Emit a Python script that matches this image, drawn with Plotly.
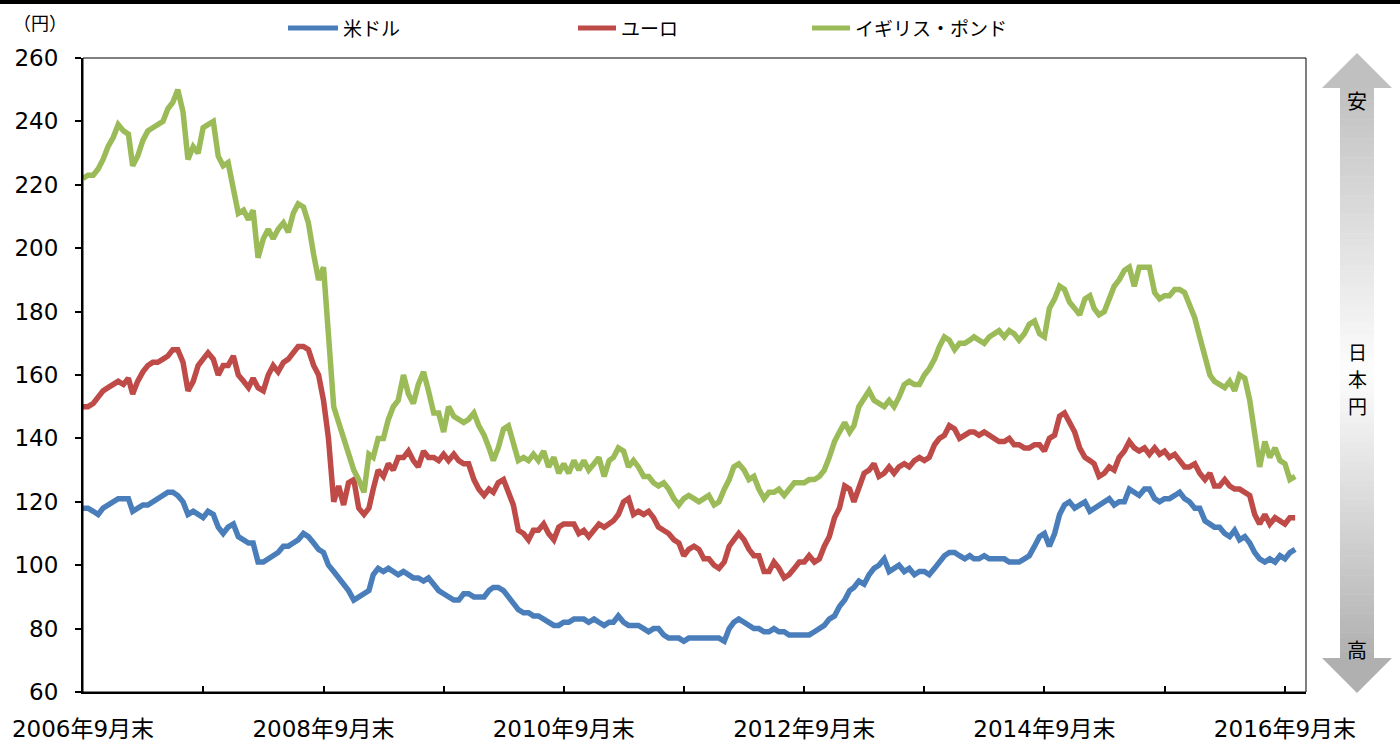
import pandas as pd
import plotly.graph_objects as go

# ---------------- data (semi-monthly readings, 2006-09-30 .. 2016-10-31) ----------------
usd = [118, 118, 117, 116, 118, 119, 120, 121, 121, 121, 117, 118, 119, 119, 120, 121, 122, 123, 123, 122,
       120, 116, 117, 116, 115, 117, 116, 112, 110, 112, 113, 109, 108, 107, 107, 101, 101, 102, 103, 104,
       106, 106, 107, 108, 110, 109, 107, 105, 104, 100, 98, 96, 94, 92, 89, 90, 91, 92, 97, 99,
       98, 99, 98, 97, 98, 97, 96, 96, 95, 96, 94, 92, 91, 90, 89, 89, 91, 91, 90, 90,
       90, 92, 93, 93, 92, 90, 88, 86, 85, 85, 84, 84, 83, 82, 81, 81, 82, 82, 83, 83,
       83, 82, 83, 82, 81, 82, 82, 84, 82, 81, 81, 81, 80, 79, 80, 80, 78, 77, 77, 77,
       76, 77, 77, 77, 77, 77, 77, 77, 76, 80, 82, 83, 82, 81, 80, 80, 79, 79, 80, 79,
       79, 78, 78, 78, 78, 78, 79, 80, 81, 83, 84, 87, 89, 92, 93, 95, 94, 97, 99, 100,
       102, 98, 99, 100, 98, 99, 97, 98, 98, 97, 99, 101, 103, 104, 104, 103, 102, 103, 102, 102,
       103, 102, 102, 102, 102, 101, 101, 101, 102, 103, 106, 109, 110, 106, 110, 116, 119, 120, 118, 119,
       120, 117, 118, 119, 120, 121, 119, 120, 120, 124, 123, 122, 124, 124, 121, 120, 121, 121, 122, 123,
       121, 120, 118, 118, 114, 113, 112, 112, 110, 109, 111, 108, 109, 107, 104, 102, 101, 102, 101, 103,
       102, 104, 105]

eur = [150, 150, 151, 153, 155, 156, 157, 158, 157, 159, 154, 158, 161, 163, 164, 164, 165, 166, 168, 168,
       164, 155, 158, 163, 165, 167, 165, 160, 163, 163, 166, 160, 158, 156, 159, 156, 155, 160, 163, 161,
       164, 165, 167, 169, 169, 168, 163, 160, 152, 140, 120, 125, 119, 126, 127, 118, 116, 118, 124, 130,
       128, 132, 130, 134, 134, 136, 133, 131, 136, 134, 134, 133, 135, 133, 135, 133, 132, 132, 127, 124,
       122, 124, 123, 126, 127, 123, 119, 111, 110, 108, 111, 111, 113, 110, 108, 112, 113, 113, 113, 110,
       111, 109, 111, 113, 112, 113, 114, 116, 120, 121, 116, 117, 116, 117, 115, 112, 111, 110, 108, 107,
       103, 105, 106, 105, 102, 102, 100, 99, 101, 106, 108, 110, 108, 105, 103, 103, 98, 98, 101, 99,
       96, 97, 99, 101, 101, 103, 101, 102, 106, 109, 115, 118, 125, 124, 120, 125, 129, 130, 132, 128,
       129, 131, 129, 131, 132, 131, 133, 134, 133, 134, 138, 140, 141, 144, 143, 140, 141, 142, 142, 141,
       142, 141, 140, 139, 139, 140, 138, 138, 137, 137, 138, 138, 136, 140, 141, 147, 148, 145, 142, 137,
       134, 133, 132, 128, 129, 131, 130, 134, 136, 139, 137, 136, 137, 135, 137, 135, 136, 134, 135, 133,
       131, 131, 132, 129, 127, 129, 125, 125, 127, 125, 124, 124, 123, 122, 116, 113, 116, 113, 115, 114,
       113, 115, 115]

gbp = [222, 223, 223, 225, 228, 232, 235, 239, 237, 236, 226, 229, 234, 237, 238, 239, 240, 244, 246, 250,
       243, 228, 232, 230, 238, 239, 240, 229, 226, 227, 219, 211, 212, 209, 212, 197, 203, 206, 203, 206,
       208, 205, 211, 214, 213, 208, 198, 190, 194, 170, 150, 145, 140, 136, 130, 127, 123, 135, 134, 140,
       140, 146, 150, 152, 160, 154, 151, 157, 161, 155, 148, 148, 142, 150, 147, 146, 145, 146, 148, 144,
       141, 137, 133, 137, 143, 144, 139, 133, 134, 133, 135, 133, 136, 131, 134, 129, 132, 129, 133, 130,
       133, 130, 132, 134, 128, 133, 134, 137, 136, 131, 133, 131, 128, 128, 126, 125, 126, 124, 121, 119,
       121, 122, 121, 120, 121, 122, 119, 120, 124, 127, 131, 132, 130, 127, 128, 124, 121, 123, 123, 124,
       122, 124, 126, 126, 126, 127, 127, 128, 130, 134, 139, 142, 145, 142, 144, 150, 153, 155, 152, 151,
       150, 152, 150, 153, 157, 158, 157, 157, 160, 162, 165, 169, 172, 171, 168, 170, 170, 171, 172, 171,
       170, 172, 173, 174, 172, 174, 173, 171, 173, 176, 177, 173, 172, 181, 184, 188, 187, 183, 181, 179,
       184, 185, 181, 179, 180, 184, 188, 190, 193, 194, 188, 194, 194, 194, 186, 184, 185, 185, 187, 187,
       186, 182, 178, 172, 165, 160, 158, 157, 156, 158, 155, 160, 159, 152, 140, 131, 139, 134, 137, 133,
       132, 127, 128]

series_names = ["米ドル", "ユーロ", "イギリス・ポンド"]
series_colors = ["#4A7EBB", "#BE4B48", "#9BBB59"]

tick_dates = ["%d-09-30" % y for y in range(2006, 2017)]
tick_labels = ["%d年9月末" % y if y % 2 == 0 else "" for y in range(2006, 2017)]
y_ticks = list(range(60, 261, 20))


def semimonth_dates(n):
    out = [pd.Timestamp(2006, 9, 30)]
    y, m = 2006, 9
    while len(out) < n:
        m += 1
        if m > 12:
            m, y = 1, y + 1
        out.append(pd.Timestamp(y, m, 15))
        if len(out) < n:
            out.append(pd.Timestamp(y, m, 1) + pd.offsets.MonthEnd(0))
    return out


dates = [d.strftime("%Y-%m-%d") for d in semimonth_dates(len(usd))]

# ---------------- figure ----------------
W, H = 1400, 742
PL, PR, PT, PB = 83, 1306, 58, 692   # plot-area pixel box
FONT = "DejaVu Sans, Noto Sans CJK JP"
JP = "Noto Sans CJK JP"


def fx(px):
    return px / W


def fy(py):
    return 1 - py / H


fig = go.Figure()
for name, vals, col in zip(series_names, [usd, eur, gbp], series_colors):
    fig.add_trace(go.Scatter(x=dates, y=vals, mode="lines", name=name,
                             line=dict(color=col, width=5.5), showlegend=False))

fig.update_layout(
    width=W, height=H, autosize=False,
    margin=dict(l=0, r=0, t=0, b=0, pad=0),
    paper_bgcolor="white", plot_bgcolor="white",
    font=dict(family=FONT, color="black", size=22),
    xaxis=dict(type="date", domain=[PL / W, PR / W],
               range=["2006-09-30", "2016-12-03"],
               tickmode="array", tickvals=tick_dates, ticktext=tick_labels,
               ticks="inside", ticklen=6, tickwidth=1.5, tickcolor="black",
               showline=True, linecolor="black", linewidth=2,
               showgrid=False, zeroline=False, automargin=False,
               ticklabelstandoff=15,
               tickfont=dict(size=23, family=FONT)),
    yaxis=dict(domain=[(H - PB) / H, (H - PT) / H], range=[60, 260],
               tickmode="array", tickvals=y_ticks,
               ticks="outside", ticklen=6, tickwidth=1.5, tickcolor="black",
               showline=True, linecolor="black", linewidth=2,
               showgrid=False, zeroline=False, automargin=False,
               ticklabelstandoff=12,
               tickfont=dict(size=23, family=FONT)),
)

shapes = [
    dict(type="rect", xref="x domain", yref="y domain", x0=0, x1=1, y0=0, y1=1,
         line=dict(color="black", width=1), layer="above"),
    dict(type="rect", xref="paper", yref="paper", x0=0, x1=1, y0=fy(4), y1=1,
         line=dict(width=0), fillcolor="black"),
]

# right-side double arrow with a vertical grey->white->grey gradient built from bands
top_tip, head_top_base, head_bot_base, bot_tip = 53, 88, 658, 693
cx, half_head, half_shaft = 1357, 35, 17
shaft_top, shaft_bot = head_top_base, head_bot_base
nb = 90
g_top, g_bot, g_mid = 192, 176, 253
for i in range(nb):
    y0 = shaft_top + (shaft_bot - shaft_top) * i / nb
    y1 = shaft_top + (shaft_bot - shaft_top) * (i + 1) / nb
    f = (i + 0.5) / nb
    if f < 0.5:
        g = g_top + (g_mid - g_top) * (f / 0.5)
    else:
        g = g_mid + (g_bot - g_mid) * ((f - 0.5) / 0.5)
    g = int(round(g))
    shapes.append(dict(type="rect", xref="paper", yref="paper",
                       x0=fx(cx - half_shaft), x1=fx(cx + half_shaft), y0=fy(y1), y1=fy(y0) + 0.0004,
                       line=dict(width=0), fillcolor="rgb(%d,%d,%d)" % (g, g, g), layer="below"))
for tip, base, gg in [(top_tip, head_top_base, g_top), (bot_tip, head_bot_base, g_bot)]:
    shapes.append(dict(type="path", xref="paper", yref="paper",
                       path="M %f %f L %f %f L %f %f Z" % (fx(cx), fy(tip), fx(cx + half_head), fy(base),
                                                           fx(cx - half_head), fy(base)),
                       line=dict(width=0), fillcolor="rgb(%d,%d,%d)" % (gg, gg, gg), layer="below"))

legend_pos = [(288, 338, 341), (578, 616, 619), (812, 850, 853)]
annotations = []
for (x0, x1, tx), name, col in zip(legend_pos, series_names, series_colors):
    shapes.append(dict(type="line", xref="paper", yref="paper",
                       x0=fx(x0), x1=fx(x1), y0=fy(28), y1=fy(28),
                       line=dict(color=col, width=5)))
    annotations.append(dict(text=name, xref="paper", yref="paper", x=fx(tx), y=fy(28),
                            xanchor="left", yanchor="middle", showarrow=False,
                            font=dict(size=19, family=JP)))

annotations += [
    dict(text="（円）", xref="paper", yref="paper", x=fx(40), y=fy(22), xanchor="center",
         yanchor="middle", showarrow=False, font=dict(size=18, family=JP)),
    dict(text="安", xref="paper", yref="paper", x=fx(cx), y=fy(100), xanchor="center",
         yanchor="middle", showarrow=False, font=dict(size=20, family=JP)),
    dict(text="日", xref="paper", yref="paper", x=fx(cx), y=fy(351), xanchor="center",
         yanchor="middle", showarrow=False, font=dict(size=19, family=JP)),
    dict(text="本", xref="paper", yref="paper", x=fx(cx), y=fy(378), xanchor="center",
         yanchor="middle", showarrow=False, font=dict(size=19, family=JP)),
    dict(text="円", xref="paper", yref="paper", x=fx(cx), y=fy(405), xanchor="center",
         yanchor="middle", showarrow=False, font=dict(size=19, family=JP)),
    dict(text="高", xref="paper", yref="paper", x=fx(cx), y=fy(649), xanchor="center",
         yanchor="middle", showarrow=False, font=dict(size=20, family=JP)),
]

fig.update_layout(shapes=shapes, annotations=annotations)
fig.write_html("out.html")
